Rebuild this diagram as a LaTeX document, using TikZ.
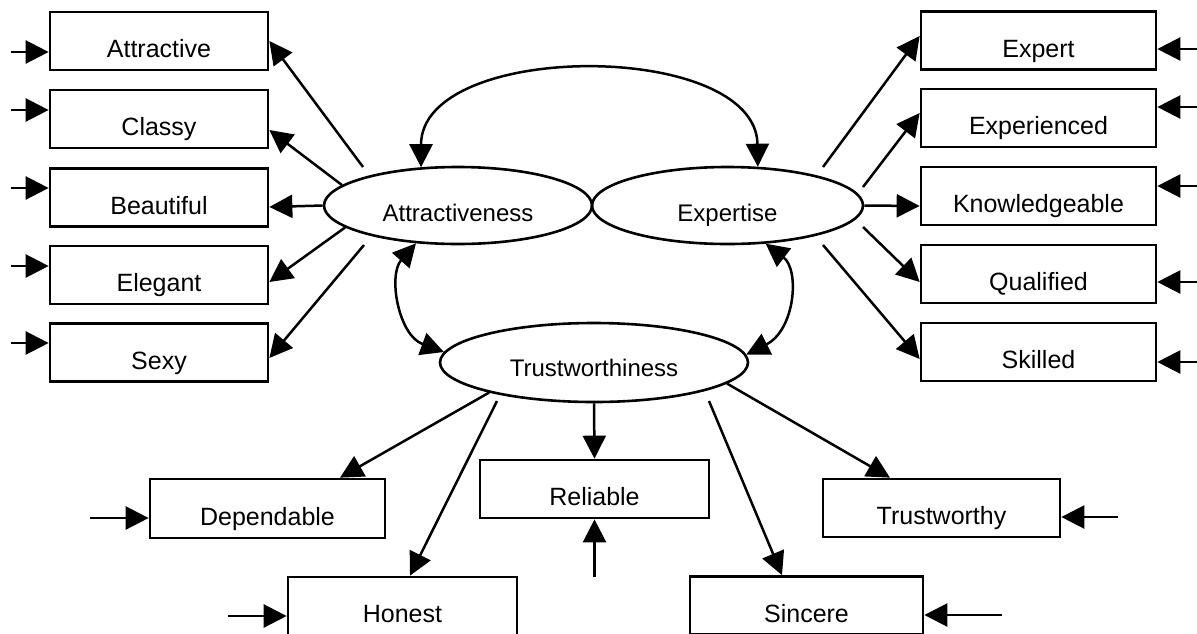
\documentclass[tikz,border=0pt]{standalone}
\usepackage{fontspec}
\setmainfont{Liberation Sans}
\usetikzlibrary{arrows.meta,shapes.geometric}
\begin{document}
\begin{tikzpicture}[x=1pt,y=-1pt,
  every node/.style={font=\fontsize{25pt}{30pt}\selectfont, inner sep=0pt},
  item/.style={draw, line width=2.7pt, rectangle, minimum height=58pt,
               text height=33pt, text depth=0pt},
  leftitem/.style={item, minimum width=218pt},
  rightitem/.style={item, minimum width=235pt},
  factor/.style={draw, line width=2.6pt, ellipse, minimum height=77pt,
                 text height=32pt, text depth=0pt,
                 font=\fontsize{24pt}{28pt}\selectfont},
  link/.style={line width=2.5pt, -{Triangle[length=23pt,width=23pt]}},
  covar/.style={line width=2.5pt, {Triangle[length=23pt,width=23pt]}-{Triangle[length=23pt,width=23pt]}},
]
\useasboundingbox (0,0) rectangle (1197,633);
\clip (0,0) rectangle (1197,633);

% latent factors
\node[factor, minimum width=268pt] (attr)  at (458,205.5) {Attractiveness};
\node[factor, minimum width=271pt] (expt)  at (727.5,205.5) {Expertise};
\node[factor, minimum width=308pt, minimum height=79pt, text height=28pt] (trust) at (594,362.5) {Trustworthiness\hspace{18pt}};

% indicators of attractiveness
\node[leftitem] (attractive) at (159,41)    {Attractive};
\node[leftitem] (classy)     at (159,119)   {Classy};
\node[leftitem] (beautiful)  at (159,197.5) {Beautiful};
\node[leftitem] (elegant)    at (159,275)   {Elegant};
\node[leftitem] (sexy)       at (159,352.5) {Sexy};

% indicators of expertise
\node[rightitem] (expert)        at (1038.5,40.5) {Expert};
\node[rightitem] (experienced)   at (1038.5,118)  {Experienced};
\node[rightitem] (knowledgeable) at (1038.5,196)  {Knowledgeable};
\node[rightitem] (qualified)     at (1038.5,274)  {Qualified};
\node[rightitem] (skilled)       at (1038.5,352)  {Skilled};

% indicators of trustworthiness
\node[item, minimum width=235pt, minimum height=59pt] (dependable) at (267.5,508.5) {Dependable};
\node[item, minimum width=229pt] (reliable)    at (594.5,489)   {Reliable};
\node[item, minimum width=237pt] (trustworthy) at (941.5,508)   {Trustworthy};
\node[item, minimum width=229pt] (honest)      at (402.5,606)   {Honest};
\node[item, minimum width=233pt] (sincere)     at (806.5,605.5) {Sincere};

% free ends of the error terms
\coordinate (eA) at (11,52);
\coordinate (eC) at (11,110);
\coordinate (eB) at (11,188);
\coordinate (eE) at (11,266);
\coordinate (eS) at (11,343);
\coordinate (rX1) at (1197,49);
\coordinate (rX2) at (1197,107);
\coordinate (rX3) at (1197,186);
\coordinate (rX4) at (1197,282);
\coordinate (rX5) at (1197,362);
\coordinate (eD) at (90,518);
\coordinate (eR) at (594.5,577);
\coordinate (eT) at (1118,517);
\coordinate (eH) at (228,616);
\coordinate (eSi) at (1002,615);

% loose starts of some loadings
\coordinate (sAt) at (363,167);
\coordinate (sSx) at (364,245);
\coordinate (sEx) at (823,167);
\coordinate (sXp) at (863,187);
\coordinate (sQu) at (863,227);
\coordinate (sSk) at (823,245);
\coordinate (sHo) at (497,401);
\coordinate (sSi) at (709,401);

% error terms
\draw[link] (eA) -- ([yshift=-11pt]attractive.west);
\draw[link] (eC) -- ([yshift=9pt]classy.west);
\draw[link] (eB) -- ([yshift=9.5pt]beautiful.west);
\draw[link] (eE) -- ([yshift=9pt]elegant.west);
\draw[link] (eS) -- ([yshift=9.5pt]sexy.west);
\draw[link] (rX1) -- ([yshift=-8.5pt]expert.east);
\draw[link] (rX2) -- ([yshift=11pt]experienced.east);
\draw[link] (rX3) -- ([yshift=10pt]knowledgeable.east);
\draw[link] (rX4) -- ([yshift=-8pt]qualified.east);
\draw[link] (rX5) -- ([yshift=-10pt]skilled.east);
\draw[link] (eD) -- ([yshift=-9.5pt]dependable.west);
\draw[link] (eR) -- (reliable.south);
\draw[link] (eT) -- ([yshift=-9pt]trustworthy.east);
\draw[link] (eH) -- ([yshift=-10pt]honest.west);
\draw[link] (eSi) -- ([yshift=-9.5pt]sincere.east);

% loadings of attractiveness
\draw[link] (sAt) -- (attractive.east);
\draw[link] (attr.170) -- ([yshift=-11pt]classy.east);
\draw[link] (attr.west) -- ([yshift=-9.5pt]beautiful.east);
\draw[link] (attr.191) -- ([yshift=-7pt]elegant.east);
\draw[link] (sSx) -- ([yshift=-5.5pt]sexy.east);

% loadings of expertise
\draw[link] (sEx) -- ([yshift=4.5pt]expert.west);
\draw[link] (sXp) -- ([yshift=5pt]experienced.west);
\draw[link] (expt.east) -- ([yshift=-10pt]knowledgeable.west);
\draw[link] (sQu) -- ([yshift=-8pt]qualified.west);
\draw[link] (sSk) -- ([yshift=-7pt]skilled.west);

% loadings of trustworthiness
\draw[link] (trust.196) -- ([xshift=72.5pt]dependable.north);
\draw[link] (sHo) -- ([xshift=7.5pt]honest.north);
\draw[link] (trust.south) -- (reliable.north);
\draw[link] (sSi) -- ([xshift=-24.5pt]sincere.north);
\draw[link] (trust.351.4) -- ([xshift=-51.5pt]trustworthy.north);

% correlations between the factors
\draw[covar] (attr.134.6) .. controls (421,40) and (756,40) .. (expt.52.8);
\draw[covar] (attr.222.4) .. controls (388,275) and (398,335) .. (trust.176.2);
\draw[covar] (expt.315.4) .. controls (800,270) and (795,330) .. (trust.3);
\end{tikzpicture}
\end{document}
